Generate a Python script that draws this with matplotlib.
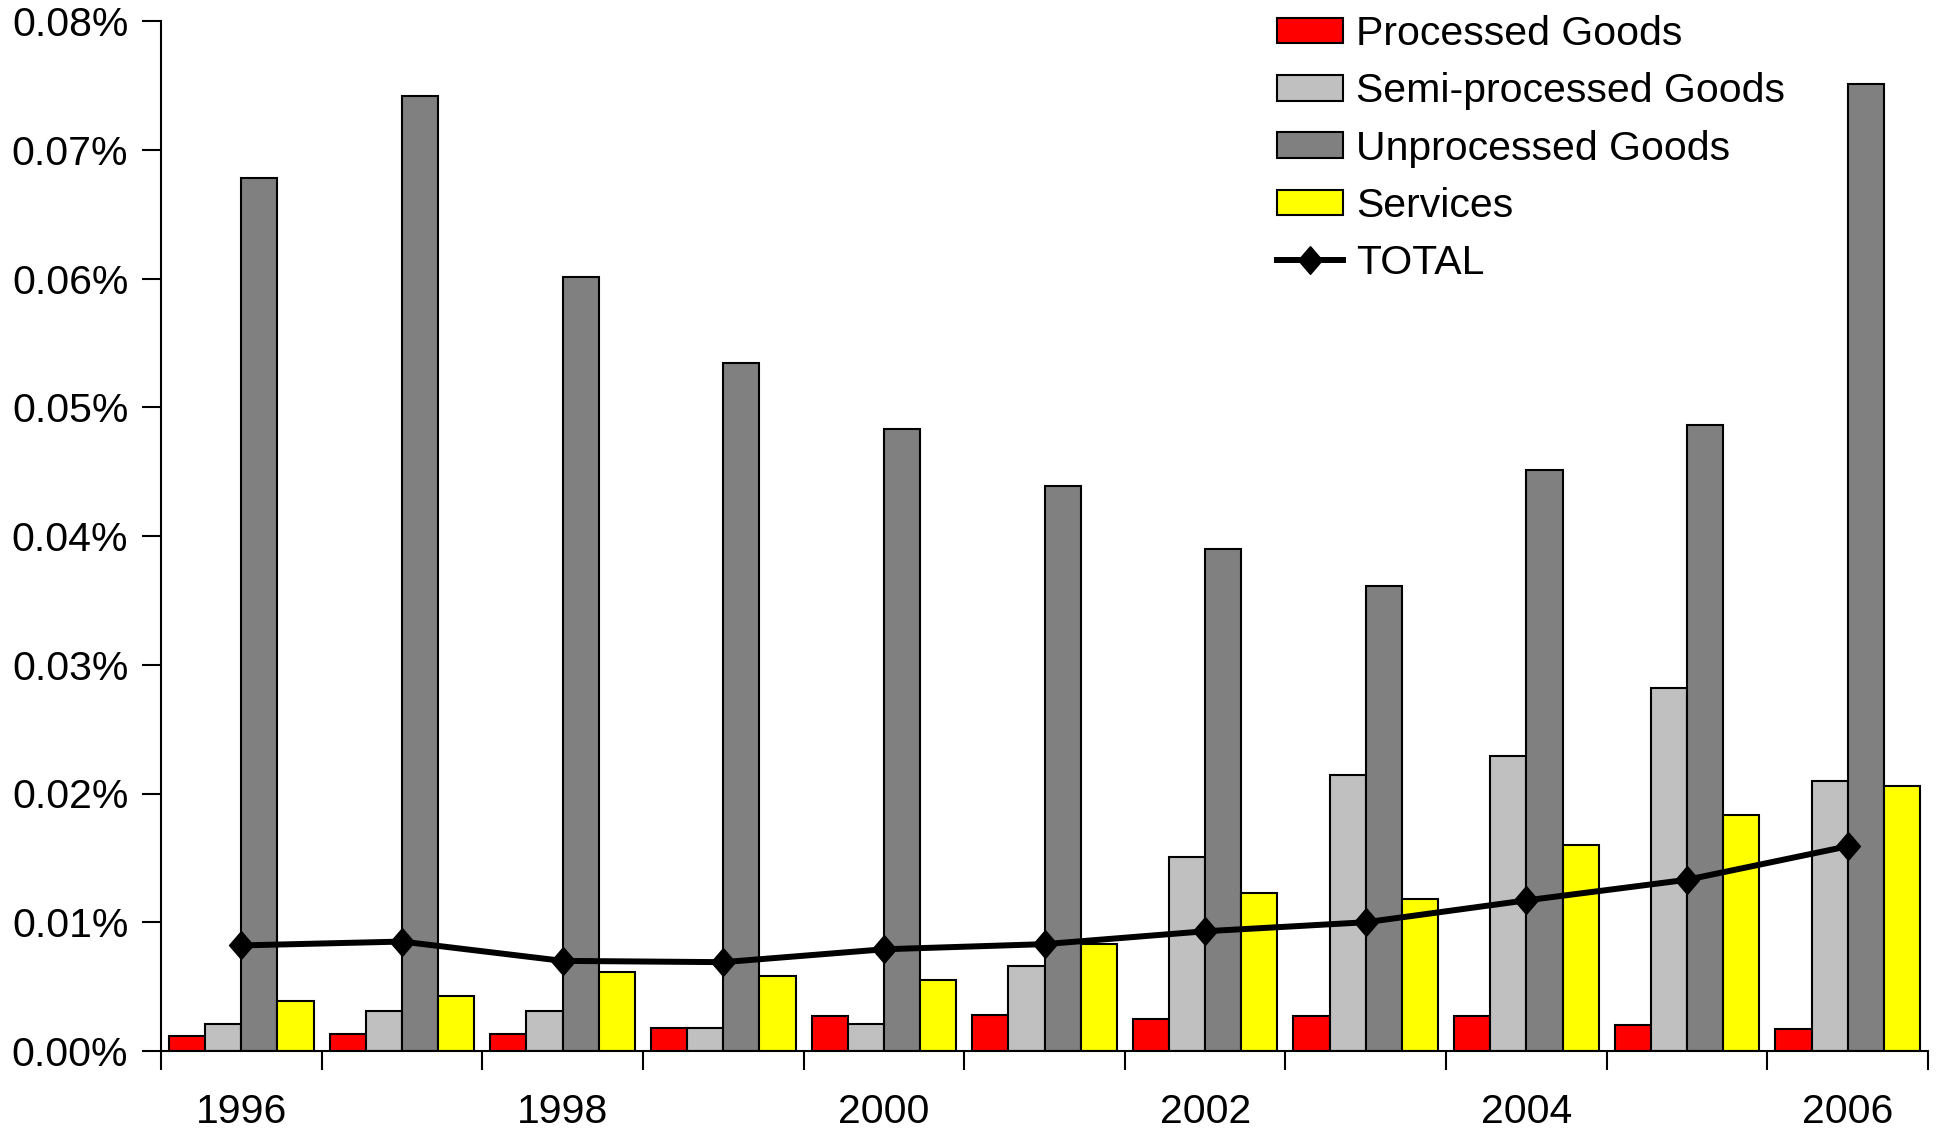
import numpy as np
import matplotlib
matplotlib.use("Agg")
import matplotlib.pyplot as plt
from matplotlib.ticker import FuncFormatter, FixedLocator

years = [1996, 1997, 1998, 1999, 2000, 2001, 2002, 2003, 2004, 2005, 2006]
year_labels = ["1996", "", "1998", "", "2000", "", "2002", "", "2004", "", "2006"]

# shares in percent
processed = [0.00115, 0.00135, 0.00135, 0.0018, 0.0027, 0.0028, 0.0025, 0.0027, 0.0027, 0.0020, 0.0017]
semi_processed = [0.0021, 0.0031, 0.0031, 0.0018, 0.0021, 0.0066, 0.0151, 0.0214, 0.0229, 0.0282, 0.0210]
unprocessed = [0.0678, 0.0742, 0.0601, 0.0534, 0.0483, 0.0439, 0.0390, 0.0361, 0.0451, 0.0486, 0.0751]
services = [0.00385, 0.0043, 0.0061, 0.0058, 0.0055, 0.0083, 0.0123, 0.0118, 0.0160, 0.0183, 0.0206]
total = [0.0082, 0.0085, 0.0070, 0.0069, 0.0079, 0.0083, 0.0093, 0.0100, 0.0117, 0.0133, 0.0159]

series = [
    ("Processed Goods", processed, "#FF0000"),
    ("Semi-processed Goods", semi_processed, "#C0C0C0"),
    ("Unprocessed Goods", unprocessed, "#808080"),
    ("Services", services, "#FFFF00"),
]

plt.rcParams["font.family"] = ["Liberation Sans", "DejaVu Sans"]
plt.rcParams["font.size"] = 29.5

fig = plt.figure(figsize=(19.38, 11.30), dpi=100)
ax = fig.add_axes([161 / 1938, 79 / 1130, (1928 - 161) / 1938, 1030 / 1130])

x = np.arange(len(years))
bw = 0.225
offsets = [-1.5 * bw, -0.5 * bw, 0.5 * bw, 1.5 * bw]
handles = []
for (name, vals, col), off in zip(series, offsets):
    h = ax.bar(x + off, vals, width=bw, color=col, edgecolor="black",
               linewidth=1.5, label=name, zorder=2)
    handles.append(h)

# slightly tall diamond marker
diamond = [(0, 1), (0.86, 0), (0, -1), (-0.86, 0), (0, 1)]
ln, = ax.plot(x, total, color="black", linewidth=4.3, marker=diamond,
              markersize=20, label="TOTAL", zorder=3)
handles.append(ln)

ax.set_xlim(-0.5, len(years) - 0.5)
ax.set_ylim(0, 0.08)
ax.set_yticks(np.arange(0, 0.0801, 0.01))
ax.yaxis.set_major_formatter(FuncFormatter(lambda v, p: f"{v:.2f}%"))

ax.xaxis.set_major_locator(FixedLocator(np.arange(-0.5, len(years), 1.0)))
ax.xaxis.set_major_formatter(FuncFormatter(lambda v, p: ""))
ax.xaxis.set_minor_locator(FixedLocator(x))
ax.set_xticklabels(year_labels, minor=True)

ax.tick_params(axis="x", which="major", direction="out", length=14, width=1.5)
ax.tick_params(axis="x", which="minor", length=0, pad=30)
ax.tick_params(axis="y", direction="out", length=14, width=1.5, pad=9.5)

for side in ("top", "right"):
    ax.spines[side].set_visible(False)
for side in ("left", "bottom"):
    ax.spines[side].set_linewidth(1.5)

leg = ax.legend(handles=handles, loc="upper left",
                bbox_to_anchor=(1277 / 1938, 1 - 15 / 1130),
                bbox_transform=fig.transFigure, frameon=False,
                handlelength=1.6, handleheight=0.58, handletextpad=0.33,
                labelspacing=0.47, borderpad=0, borderaxespad=0)

fig.savefig("out.png", dpi=100)
